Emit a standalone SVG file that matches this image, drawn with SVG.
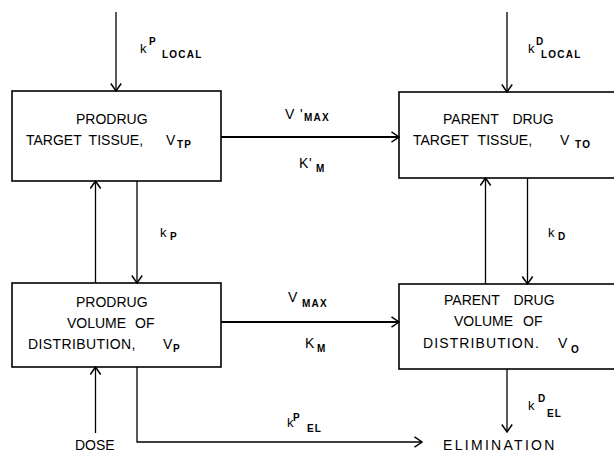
<svg xmlns="http://www.w3.org/2000/svg" width="614" height="452" viewBox="0 0 614 452">
<defs>
<style>
.box{fill:none;stroke:#000;stroke-width:1.6}
.ln{fill:none;stroke:#000;stroke-width:1.3}
.hl{fill:none;stroke:#000;stroke-width:2}
text{font-family:"Liberation Sans",Arial,sans-serif;font-size:14px;fill:#000}
.s{font-size:10px;font-weight:bold;letter-spacing:1.2px}
.k{font-size:13px}
</style>
<marker id="ah" viewBox="0 0 10 12" refX="8.5" refY="6" markerWidth="10" markerHeight="12" markerUnits="userSpaceOnUse" orient="auto">
<path d="M1,0.8 L8.5,6 L1,11.2" fill="none" stroke="#000" stroke-width="1.5"/>
</marker>
</defs>
<rect width="614" height="452" fill="#fff"/>
<g id="prodrug-target">
<rect class="box" x="12" y="91" width="209" height="90"/>
<text x="76" y="124">PRODRUG</text>
<text x="26" y="145" word-spacing="3.5">TARGET TISSUE,<tspan x="166">V</tspan><tspan class="s" x="177" y="147.5">TP</tspan></text>
</g>
<g id="parent-target">
<rect class="box" x="399" y="92" width="216" height="86"/>
<text x="443" y="124" word-spacing="10">PARENT DRUG</text>
<text x="413" y="145" word-spacing="5.5">TARGET TISSUE,<tspan x="560">V</tspan><tspan class="s" x="575" y="147.5">TO</tspan></text>
</g>
<g id="prodrug-volume">
<rect class="box" x="12" y="283" width="209" height="84"/>
<text x="76" y="307">PRODRUG</text>
<text x="67" y="328" word-spacing="5">VOLUME OF</text>
<text x="28" y="349" letter-spacing="0.4">DISTRIBUTION,<tspan x="163">V</tspan><tspan class="s" x="173" y="351.5">P</tspan></text>
</g>
<g id="parent-volume">
<rect class="box" x="399" y="284" width="216" height="85"/>
<text x="444" y="305" word-spacing="10">PARENT DRUG</text>
<text x="454" y="326" word-spacing="6">VOLUME OF</text>
<text x="423" y="348" letter-spacing="1.1">DISTRIBUTION.<tspan x="558">V</tspan><tspan class="s" x="571" y="353">O</tspan></text>
</g>
<g id="dose">
<text x="75" y="449.5">DOSE</text>
</g>
<g id="elimination">
<text x="443" y="449.5" letter-spacing="2.3">ELIMINATION</text>
</g>
<g id="connectors">
<line class="ln" x1="116" y1="12" x2="116" y2="91" marker-end="url(#ah)"/>
<line class="ln" x1="507" y1="12" x2="507" y2="92" marker-end="url(#ah)"/>
<line class="hl" x1="221" y1="137" x2="399" y2="137" marker-end="url(#ah)"/>
<line class="ln" x1="95.5" y1="283" x2="95.5" y2="181" marker-end="url(#ah)"/>
<line class="ln" x1="137" y1="181" x2="137" y2="283" marker-end="url(#ah)"/>
<line class="ln" x1="485.5" y1="284" x2="485.5" y2="178" marker-end="url(#ah)"/>
<line class="ln" x1="527.5" y1="178" x2="527.5" y2="284" marker-end="url(#ah)"/>
<line class="hl" x1="221" y1="322" x2="399" y2="322" marker-end="url(#ah)"/>
<line class="ln" x1="95.5" y1="433" x2="95.5" y2="367" marker-end="url(#ah)"/>
<path class="ln" d="M137,367 V442 H422" marker-end="url(#ah)"/>
<line class="ln" x1="507" y1="369" x2="507" y2="432" marker-end="url(#ah)"/>
<text class="k" x="140" y="53">k<tspan class="s" x="149" y="45">P</tspan><tspan class="s" x="162" y="57.5" letter-spacing="2">LOCAL</tspan></text>
<text class="k" x="528" y="53">k<tspan class="s" x="536" y="45">D</tspan><tspan class="s" x="541" y="57.5" letter-spacing="2">LOCAL</tspan></text>
<text x="285" y="119">V<tspan x="300" y="119">'</tspan><tspan class="s" x="304" y="120.5" letter-spacing="2">MAX</tspan></text>
<text x="299" y="168">K<tspan x="309" y="168">'</tspan><tspan class="s" x="316" y="171.5">M</tspan></text>
<text x="288" y="302">V<tspan class="s" x="302" y="306.5" letter-spacing="2">MAX</tspan></text>
<text x="305" y="348">K<tspan class="s" x="317" y="352">M</tspan></text>
<text class="k" x="160" y="237">k<tspan class="s" x="170" y="239.5">P</tspan></text>
<text class="k" x="548" y="237">k<tspan class="s" x="558" y="239.5">D</tspan></text>
<text class="k" x="287" y="427">k<tspan class="s" x="293" y="421">P</tspan><tspan class="s" x="307" y="432">EL</tspan></text>
<text class="k" x="528" y="410">k<tspan class="s" x="538" y="402">D</tspan><tspan class="s" x="547" y="417">EL</tspan></text>
</g>
</svg>
